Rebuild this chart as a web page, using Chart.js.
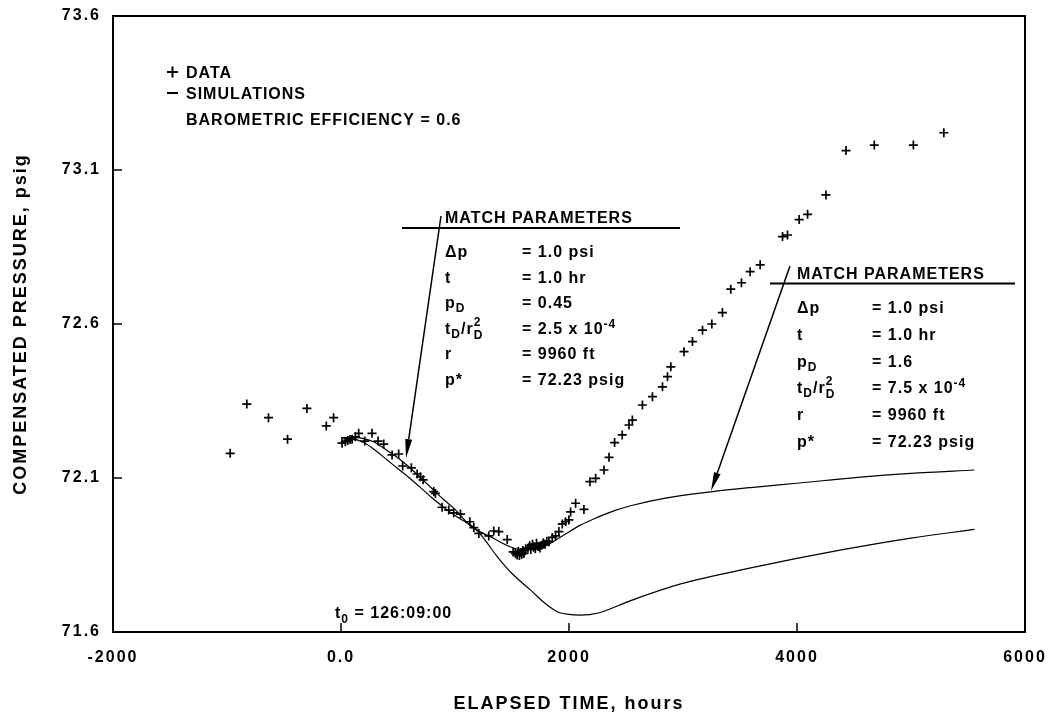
<!DOCTYPE html>
<html>
<head>
<meta charset="utf-8">
<script src="https://cdn.jsdelivr.net/npm/chart.js@4.4.1/dist/chart.umd.min.js"></script>
<style>
  html, body { margin: 0; padding: 0; background: #ffffff; }
  #wrap { width: 1054px; height: 716px; }
</style>
</head>
<body>
<div id="wrap"><canvas id="c" width="1054" height="716"></canvas></div>
<script>
// ---------------- DATA ----------------
const xTicks = [-2000, 0, 2000, 4000, 6000];
const yTicks = [71.6, 72.1, 72.6, 73.1, 73.6];

// measured data (elapsed time, hours ; compensated pressure, psig)
const dataHours = [
  -972, -826, -636, -469, -299, -129, -65,
  9, 38, 60, 80, 97, 126, 155, 208, 272, 325, 375, 448, 506, 541, 617, 668, 697, 720,
  814, 828, 887, 945, 989, 1048, 1130, 1165, 1209, 1296, 1340, 1384, 1458,
  1510, 1530, 1545, 1555, 1565, 1575, 1585, 1595, 1605, 1620, 1640, 1655, 1665, 1680,
  1690, 1705, 1715, 1730, 1745, 1760, 1775, 1790, 1805,
  1824, 1853, 1882, 1911, 1941, 1970, 1999, 2014, 2058, 2131, 2184, 2234, 2307, 2351,
  2400, 2467, 2526, 2556, 2644, 2732, 2820, 2864, 2893, 3009, 3083, 3171, 3253, 3346,
  3419, 3513, 3589, 3677, 3873, 3917, 4019, 4093, 4254, 4430, 4678, 5021, 5288
];
const dataPsig = [
  72.18, 72.34, 72.296, 72.226, 72.326, 72.269, 72.296,
  72.213, 72.218, 72.222, 72.225, 72.226, 72.234, 72.245, 72.22, 72.245, 72.22, 72.21, 72.175, 72.178, 72.139, 72.133, 72.113, 72.104, 72.094,
  72.056, 72.05, 72.005, 71.996, 71.987, 71.983, 71.958, 71.939, 71.92, 71.912, 71.928, 71.926, 71.90,
  71.86, 71.855, 71.85, 71.862, 71.848, 71.858, 71.852, 71.865, 71.855, 71.87, 71.872, 71.88, 71.868, 71.885,
  71.875, 71.87, 71.888, 71.878, 71.873, 71.882, 71.89, 71.885, 71.895,
  71.893, 71.907, 71.912, 71.926, 71.951, 71.958, 71.964, 71.99, 72.018, 71.998, 72.088, 72.099, 72.126, 72.167,
  72.215, 72.24, 72.272, 72.288, 72.337, 72.364, 72.396, 72.429, 72.461, 72.51, 72.543, 72.58, 72.6, 72.637,
  72.713, 72.734, 72.77, 72.792, 72.884, 72.889, 72.939, 72.956, 73.019, 73.163, 73.181, 73.181, 73.221
];

// simulation 1 (shallow curve)
const simAHours = [0, 100, 200, 300, 400, 500, 600, 700, 800, 900, 1000, 1136, 1311, 1516, 1604, 1700, 1780, 1955, 2100, 2248, 2400, 2541, 2834, 3244, 3595, 4000, 4532, 5000, 5556];
const simAPsig  = [72.23, 72.232, 72.228, 72.215, 72.19, 72.165, 72.135, 72.1, 72.065, 72.03, 71.998, 71.945, 71.909, 71.872, 71.868, 71.87, 71.877, 71.915, 71.947, 71.972, 71.994, 72.01, 72.034, 72.055, 72.069, 72.083, 72.102, 72.115, 72.126];

// simulation 2 (deep curve)
const simBHours = [0, 100, 200, 300, 400, 500, 600, 700, 800, 900, 1000, 1100, 1165, 1250, 1370, 1500, 1663, 1800, 1897, 2000, 2102, 2248, 2541, 2980, 3595, 4412, 5000, 5556];
const simBPsig  = [72.23, 72.228, 72.215, 72.19, 72.16, 72.13, 72.1, 72.068, 72.035, 72.005, 71.978, 71.955, 71.94, 71.905, 71.845, 71.79, 71.736, 71.69, 71.666, 71.657, 71.655, 71.661, 71.702, 71.756, 71.808, 71.868, 71.905, 71.933];

// ---------------- STYLE / LAYOUT ----------------
const FF = '"Liberation Sans", Arial, Helvetica, sans-serif';
const INK = '#000000';

const toXY = (xs, ys) => xs.map((x, i) => ({ x: x, y: ys[i] }));

function line(ctx, x1, y1, x2, y2) {
  ctx.beginPath(); ctx.moveTo(x1, y1); ctx.lineTo(x2, y2); ctx.stroke();
}
function arrow(ctx, x1, y1, x2, y2) {
  const ang = Math.atan2(y2 - y1, x2 - x1);
  const L = 19, W = 3.5;
  const bx = x2 - L * Math.cos(ang), by = y2 - L * Math.sin(ang);
  ctx.lineWidth = 1.5;
  line(ctx, x1, y1, bx, by);
  ctx.beginPath();
  ctx.moveTo(x2, y2);
  ctx.lineTo(bx + W * Math.sin(ang), by - W * Math.cos(ang));
  ctx.lineTo(bx - W * Math.sin(ang), by + W * Math.cos(ang));
  ctx.closePath(); ctx.fill();
}
function rich(ctx, x, y, parts, size) {
  let cx = x;
  for (const p of parts) {
    if (typeof p === 'string') {
      ctx.font = `bold ${size}px ${FF}`;
      ctx.fillText(p, cx, y);
      cx += ctx.measureText(p).width;
    } else {
      const s = p.size || Math.round(size * 0.75);
      ctx.font = `bold ${s}px ${FF}`;
      let w = 0;
      if (p.sub) { ctx.fillText(p.sub, cx, y + (p.subDy || 4)); w = Math.max(w, ctx.measureText(p.sub).width); }
      if (p.sup) { ctx.fillText(p.sup, cx, y - (p.supDy || 7)); w = Math.max(w, ctx.measureText(p.sup).width); }
      cx += w;
    }
  }
}

function matchBox(ctx, box) {
  ctx.fillStyle = INK; ctx.strokeStyle = INK;
  ctx.textAlign = 'left'; ctx.textBaseline = 'alphabetic';
  ctx.letterSpacing = '1px';
  ctx.font = `bold 16px ${FF}`;
  ctx.fillText('MATCH PARAMETERS', box.labelX, box.titleY);
  ctx.lineWidth = 2;
  line(ctx, box.ruleX1, box.ruleY, box.ruleX2, box.ruleY);
  const rows = [
    [['Δp'], ['= 1.0 psi']],
    [['t'], ['= 1.0 hr']],
    [['p', { sub: 'D', subDy: 4 }], ['= ' + box.pD]],
    [['t', { sub: 'D', subDy: 4 }, '/r', { sub: 'D', subDy: 5, sup: '2', supDy: 8 }], ['= ' + box.tr + ' x 10', { sup: '-4', supDy: 6, size: 12 }]],
    [['r'], ['= 9960 ft']],
    [['p*'], ['= 72.23 psig']]
  ];
  rows.forEach((r, i) => {
    const y = box.row0 + i * box.rowGap;
    rich(ctx, box.labelX, y, r[0], 16);
    rich(ctx, box.valueX, y, r[1], 16);
  });
  arrow(ctx, box.arrow[0], box.arrow[1], box.arrow[2], box.arrow[3]);
}

const decor = {
  id: 'decor',
  beforeDraw(chart) {
    chart.ctx.letterSpacing = '2px';
  },
  afterDraw(chart) {
    const ctx = chart.ctx;
    const a = chart.chartArea;
    const xs = chart.scales.x, ys = chart.scales.y;
    ctx.save();
    ctx.strokeStyle = INK; ctx.fillStyle = INK;
    ctx.lineWidth = 2;
    ctx.strokeRect(a.left, a.top, a.right - a.left, a.bottom - a.top);
    ctx.lineWidth = 1.5;
    xTicks.forEach(v => { const p = xs.getPixelForValue(v); line(ctx, p, a.bottom, p, a.bottom - 9); });
    yTicks.forEach(v => { const p = ys.getPixelForValue(v); line(ctx, a.left, p, a.left + 9, p); });

    ctx.lineWidth = 2;
    line(ctx, 167, 72, 178, 72); line(ctx, 172.5, 66.5, 172.5, 77.5);
    line(ctx, 167, 93, 178, 93);
    ctx.letterSpacing = '1px';
    ctx.textAlign = 'left'; ctx.textBaseline = 'alphabetic';
    ctx.font = `bold 16px ${FF}`;
    ctx.fillText('DATA', 186, 77.5);
    ctx.fillText('SIMULATIONS', 186, 99);
    ctx.fillText('BAROMETRIC EFFICIENCY = 0.6', 186, 124.5);

    rich(ctx, 335, 618, ['t', { sub: '0', subDy: 5, size: 12 }, ' = 126:09:00'], 16);

    matchBox(ctx, { labelX: 445, valueX: 522, titleY: 223, ruleX1: 402, ruleX2: 680, ruleY: 228,
      row0: 257, rowGap: 25.6, pD: '0.45', tr: '2.5', arrow: [441, 216, 406, 458] });
    matchBox(ctx, { labelX: 797, valueX: 872, titleY: 278.5, ruleX1: 770, ruleX2: 1015, ruleY: 283.5,
      row0: 313, rowGap: 26.8, pD: '1.6', tr: '7.5', arrow: [790, 266, 711, 491] });
    ctx.restore();
  }
};

const chart = new Chart(document.getElementById('c'), {
  type: 'scatter',
  data: {
    datasets: [
      {
        label: 'DATA',
        data: toXY(dataHours, dataPsig),
        pointStyle: 'cross',
        pointRadius: 4.5,
        pointBorderWidth: 1.7,
        borderColor: INK,
        backgroundColor: INK,
        showLine: false
      },
      {
        label: 'SIMULATION pD=1.6',
        type: 'line',
        data: toXY(simAHours, simAPsig),
        borderColor: INK,
        borderWidth: 1.2,
        pointRadius: 0,
        fill: false,
        cubicInterpolationMode: 'monotone'
      },
      {
        label: 'SIMULATION pD=0.45',
        type: 'line',
        data: toXY(simBHours, simBPsig),
        borderColor: INK,
        borderWidth: 1.2,
        pointRadius: 0,
        fill: false,
        cubicInterpolationMode: 'monotone'
      }
    ]
  },
  options: {
    responsive: false,
    animation: false,
    devicePixelRatio: 1,
    layout: { padding: { left: 0, top: 16, right: 29, bottom: 0 } },
    plugins: { legend: { display: false }, tooltip: { enabled: false } },
    scales: {
      x: {
        type: 'linear',
        min: -2000, max: 6000,
        afterFit: s => { s.height = 84; s.paddingLeft = 0; s.paddingRight = 0; },
        afterBuildTicks: s => { s.ticks = xTicks.map(v => ({ value: v })); },
        grid: { display: false, drawTicks: false },
        border: { display: false },
        ticks: {
          color: INK, padding: 16, autoSkip: false, maxRotation: 0,
          font: { family: FF, size: 16, weight: 'bold' },
          callback: v => (v === 0 ? '0.0' : String(v))
        },
        title: {
          display: true, text: 'ELAPSED TIME, hours', color: INK,
          font: { family: FF, size: 18, weight: 'bold' },
          padding: { top: 0, bottom: 1 }
        }
      },
      y: {
        type: 'linear',
        min: 71.6, max: 73.6,
        afterFit: s => { s.width = 113; s.paddingTop = 0; s.paddingBottom = 0; },
        afterBuildTicks: s => { s.ticks = yTicks.map(v => ({ value: v })); },
        grid: { display: false, drawTicks: false },
        border: { display: false },
        ticks: {
          color: INK, padding: 12, autoSkip: false,
          font: { family: FF, size: 16, weight: 'bold' },
          callback: v => Number(v).toFixed(1)
        },
        title: {
          display: true, text: 'COMPENSATED PRESSURE, psig', color: INK,
          font: { family: FF, size: 18, weight: 'bold' },
          padding: { top: 10, bottom: 0 }
        }
      }
    }
  },
  plugins: [decor]
});
</script>
</body>
</html>
